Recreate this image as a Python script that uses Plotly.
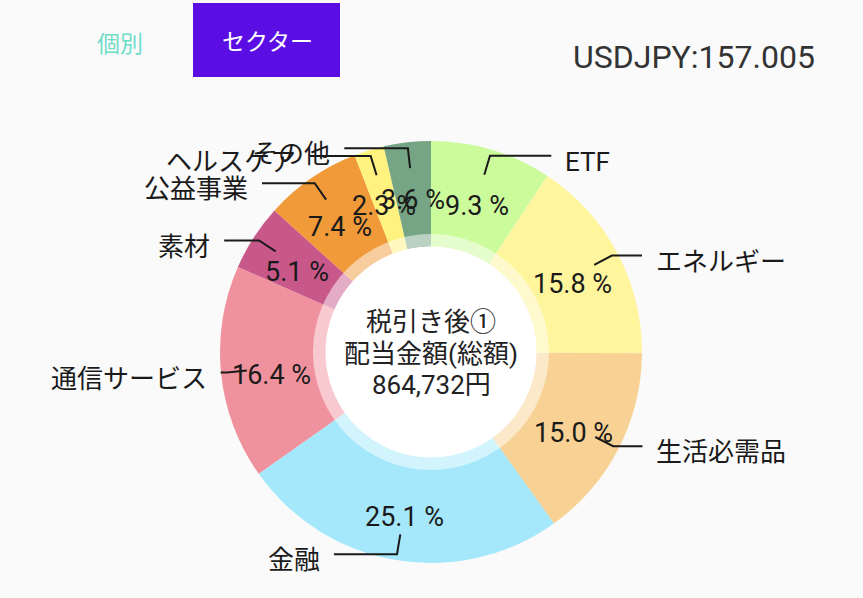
import numpy as np
import plotly.graph_objects as go

# sector shares (%) clockwise from 12 o'clock
sectors = ["ETF", "エネルギー", "生活必需品", "金融", "通信サービス", "素材", "公益事業", "ヘルスケア", "その他"]
shares = [9.3, 15.8, 15.0, 25.1, 16.4, 5.1, 7.4, 2.3, 3.6]
colors = ["#CBFB9B", "#FFF59D", "#F8D294", "#A5E8FB", "#F0929E",
          "#C8588A", "#F09A3A", "#FFF27F", "#76A585"]
center_lines = ["税引き後①", "配当金額(総額)", "864,732円"]
tabs = ["個別", "セクター"]
rate_label = "USDJPY:157.005"

W, H = 863, 598
cx, cy, R = 431, 352, 211
hole_r = R * 0.5
ring_r = 118
font = "Roboto, Noto Sans CJK JP, sans-serif"
ink = "#1a1a1a"

def domain(r):
    return dict(x=[(cx - r) / W, (cx + r) / W], y=[1 - (cy + r) / H, 1 - (cy - r) / H])

fig = go.Figure()
fig.add_trace(go.Pie(values=shares, labels=sectors, sort=False, direction="clockwise",
                     rotation=0, hole=0.5, textinfo="none", hoverinfo="skip",
                     marker=dict(colors=colors, line=dict(width=0)), domain=domain(R)))
# white centre
fig.add_trace(go.Pie(values=[1], textinfo="none", hoverinfo="skip",
                     marker=dict(colors=["#FFFFFF"], line=dict(width=0)), domain=domain(hole_r)))
# pale band along the inner edge
fig.add_trace(go.Pie(values=[1], hole=hole_r / ring_r, textinfo="none", hoverinfo="skip",
                     marker=dict(colors=["rgba(255,255,255,0.5)"], line=dict(width=0)),
                     domain=domain(ring_r)))

vals = np.array(shares)
mids = (np.cumsum(vals) - vals / 2) / vals.sum() * 2 * np.pi

def pt(r, a):
    return cx + r * np.sin(a), cy - r * np.cos(a)

shapes = [dict(type="rect", xref="x", yref="y", x0=193, x1=340, y0=3, y1=77,
               fillcolor="#5A0EE4", line=dict(width=0), layer="below")]
annotations = []
for name, v, a in zip(sectors, shares, mids):
    px, py = pt(160, a)
    annotations.append(dict(x=px, y=py + 7, text=f"{v:.1f} %", showarrow=False,
                            font=dict(size=27, color=ink, family=font)))
    x0, y0 = pt(185, a)
    x1, y1 = pt(205, a)
    right = np.sin(a) >= 0
    seg = max(64 * abs(np.cos(a)), 5)
    x2 = x1 + seg if right else x1 - seg
    shapes.append(dict(type="path", xref="x", yref="y", layer="above",
                       path=f"M {x0:.1f},{y0:.1f} L {x1:.1f},{y1:.1f} L {x2:.1f},{y1:.1f}",
                       line=dict(color=ink, width=2)))
    annotations.append(dict(x=x2 + (12 if right else -12), y=y1 + 6, text=name, showarrow=False,
                            xanchor="left" if right else "right",
                            font=dict(size=26, color=ink, family=font)))

for i, line in enumerate(center_lines):
    annotations.append(dict(x=cx, y=cy - 30 + i * 31.5, text=line, showarrow=False,
                            font=dict(size=26, color="#222222", family=font)))
annotations.append(dict(x=120, y=44, text=tabs[0], showarrow=False,
                        font=dict(size=23, color="#6FDCC9", family=font)))
annotations.append(dict(x=267, y=42, text=tabs[1], showarrow=False,
                        font=dict(size=23, color="#FFFFFF", family=font)))
annotations.append(dict(x=817, y=57, text=rate_label, showarrow=False, xanchor="right",
                        font=dict(size=32, color="#333333", family=font)))

fig.update_layout(
    width=W, height=H, margin=dict(l=0, r=0, t=0, b=0),
    paper_bgcolor="#FAFAFA", plot_bgcolor="rgba(0,0,0,0)", showlegend=False,
    xaxis=dict(range=[0, W], visible=False, fixedrange=True),
    yaxis=dict(range=[H, 0], visible=False, fixedrange=True),
    shapes=shapes,
    annotations=annotations,
)

fig.write_html("out.html", config={"displayModeBar": False},
               post_script="document.body.style.margin='0';")
